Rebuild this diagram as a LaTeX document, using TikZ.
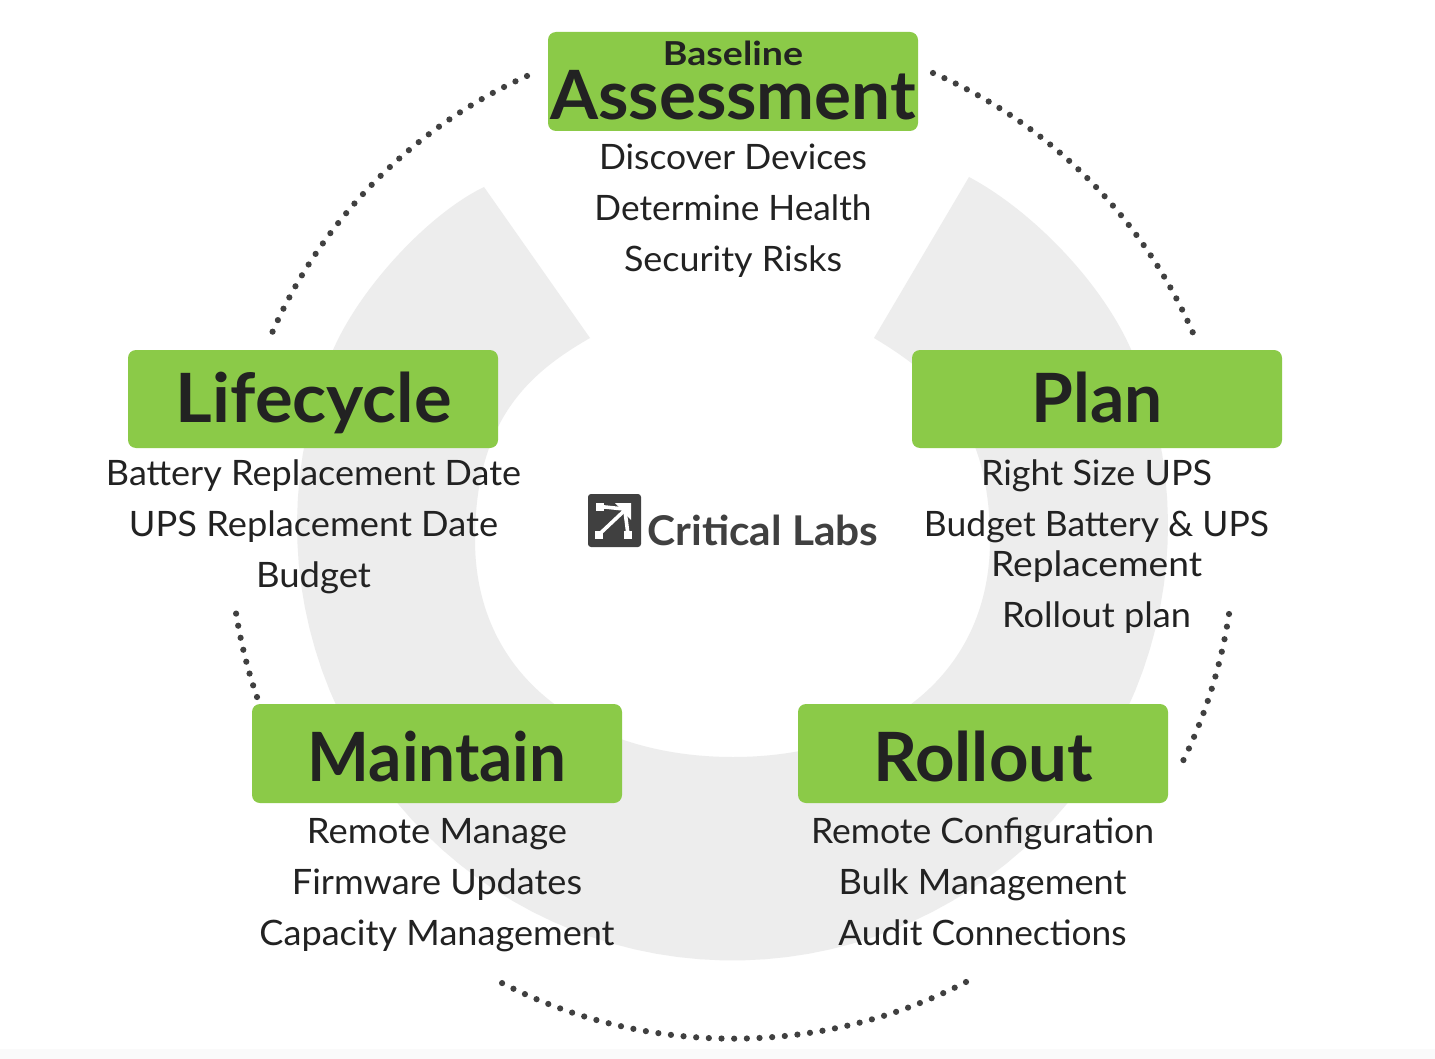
\documentclass[tikz,border=0pt]{standalone}
\usepackage{fontspec}
\usepackage{graphicx}
\setmainfont{Lato}
\definecolor{stagegreen}{HTML}{8BCA48}
\definecolor{ringgray}{HTML}{EDEDED}
\definecolor{inktext}{HTML}{222222}
\definecolor{dotgray}{HTML}{404040}
\newcommand{\fw}[2]{\resizebox{#1pt}{\height}{#2}}
\tikzset{
  stagebox/.style={fill=stagegreen,rounded corners=8pt,draw=none},
  itemtext/.style={anchor=base,inner sep=0pt,text=inktext,font=\fontsize{35}{40}\selectfont},
  headtext/.style={anchor=base,inner sep=0pt,text=inktext,font=\fontsize{68}{70}\selectfont\bfseries},
  dotarc/.style={draw=dotgray,line width=6.2pt,line cap=round,dash pattern=on 0pt off #1pt},
}
\begin{document}
\begin{tikzpicture}[x=1pt,y=-1pt]
\useasboundingbox (0,0) rectangle (1435,1059);
\fill[white] (0,0) rectangle (1435,1059);
\fill[black!2] (0,1049) rectangle (1435,1059);
% ring
\fill[ringgray] (484,187) .. controls (430,213) and (361,286) .. (333,350)
  -- plot[domain=203.7:-23.7,samples=80] ({732.5+435.5*cos(\x)},{525+435.5*sin(\x)})
  .. controls (1101,281) and (1031,210) .. (969,177)
  -- (874,338)
  .. controls (934,374) and (990,420) .. (990,540)
  .. controls (990,680) and (876,757) .. (733,757)
  .. controls (590,757) and (475,680) .. (475,540)
  .. controls (475,420) and (529,373) .. (590,338) -- cycle;
% dotted arcs
\coordinate (tlA) at (527,76);
\coordinate (tlB) at (272,333);
\coordinate (trA) at (933,73);
\coordinate (trB) at (1193,333);
\coordinate (rA) at (1229,614);
\coordinate (rB) at (1183,761);
\coordinate (bA) at (966,982);
\coordinate (bB) at (500,982);
\coordinate (lA) at (257,697);
\coordinate (lB) at (236,613);
\draw[dotarc=12.72] (tlA) to[bend right=21.1,looseness=.88] (tlB);
\draw[dotarc=12.52] (trA) to[bend left=21.5,looseness=.88] (trB);
\draw[dotarc=12.8] (rA) to[bend left=8.8,looseness=.85] (rB);
\draw[dotarc=12.68] (bA) to[bend left=27.5,looseness=.9] (bB);
\draw[dotarc=12.3] (lA) to[bend left=5,looseness=.85] (lB);
% boxes
\fill[stagebox] (548,32) rectangle (918,131);
\fill[stagebox] (128,350) rectangle (498,448);
\fill[stagebox] (912,350) rectangle (1282,448);
\fill[stagebox] (252,704) rectangle (622,803);
\fill[stagebox] (798,704) rectangle (1168,803);
% heads
\node[headtext,font=\fontsize{33}{36}\selectfont\bfseries] (h0) at (733,66) {\fw{140}{Baseline}};
\node[headtext] (h1) at (733,120) {\fw{366}{Assessment}};
\node[headtext] (h2) at (314,422) {\fw{276}{Lifecycle}};
\node[headtext] (h3) at (1097,422) {\fw{131}{Plan}};
\node[headtext] (h4) at (437,781) {\fw{259}{Maintain}};
\node[headtext] (h5) at (983,781) {\fw{220}{Rollout}};
% items
\node[itemtext] (a1) at (733,170) {\fw{268}{Discover Devices}};
\node[itemtext] (a2) at (733,221) {\fw{277}{Determine Health}};
\node[itemtext] (a3) at (733,272) {\fw{218}{Security Risks}};
\node[itemtext] (l1) at (313.5,485) {\fw{415}{Battery Replacement Date}};
\node[itemtext] (l2) at (313.5,536) {\fw{369}{UPS Replacement Date}};
\node[itemtext] (l3) at (313.5,587) {\fw{115}{Budget}};
\node[itemtext] (p1) at (1096.5,485) {\fw{231}{Right Size UPS}};
\node[itemtext] (p2) at (1096.5,536) {\fw{345}{Budget Battery \& UPS}};
\node[itemtext] (p3) at (1096.5,576) {\fw{211}{Replacement}};
\node[itemtext] (p4) at (1096.5,627) {\fw{189}{Rollout plan}};
\node[itemtext] (m1) at (437,843) {\fw{260}{Remote Manage}};
\node[itemtext] (m2) at (437,894) {\fw{290}{Firmware Updates}};
\node[itemtext] (m3) at (437,945) {\fw{355}{Capacity Management}};
\node[itemtext] (r1) at (982.5,843) {\fw{343}{Remote Configuration}};
\node[itemtext] (r2) at (982.5,894) {\fw{288}{Bulk Management}};
\node[itemtext] (r3) at (982.5,945) {\fw{288}{Audit Connections}};
% logo
\fill[dotgray,rounded corners=3pt] (588,494) rectangle (641,547);
\draw[white,line width=3.6pt] (600,506.5) -- (624,509);
\draw[white,line width=3.6pt] (599,534.5) -- (624,511);
\draw[white,line width=3.6pt] (625,511) -- (628,534.5);
\fill[white] (596,503) rectangle (604,510.5);
\fill[white] (595,531) rectangle (603,539);
\fill[white] (624,531) rectangle (632,539);
\fill[white] (615,503) -- (631,503) -- (631,520) -- cycle;
\node[anchor=base,inner sep=0pt,text=dotgray,font=\fontsize{41}{44}\selectfont\bfseries] (logo) at (763,545) {\fw{231}{Critical Labs}};
\end{tikzpicture}
\end{document}
